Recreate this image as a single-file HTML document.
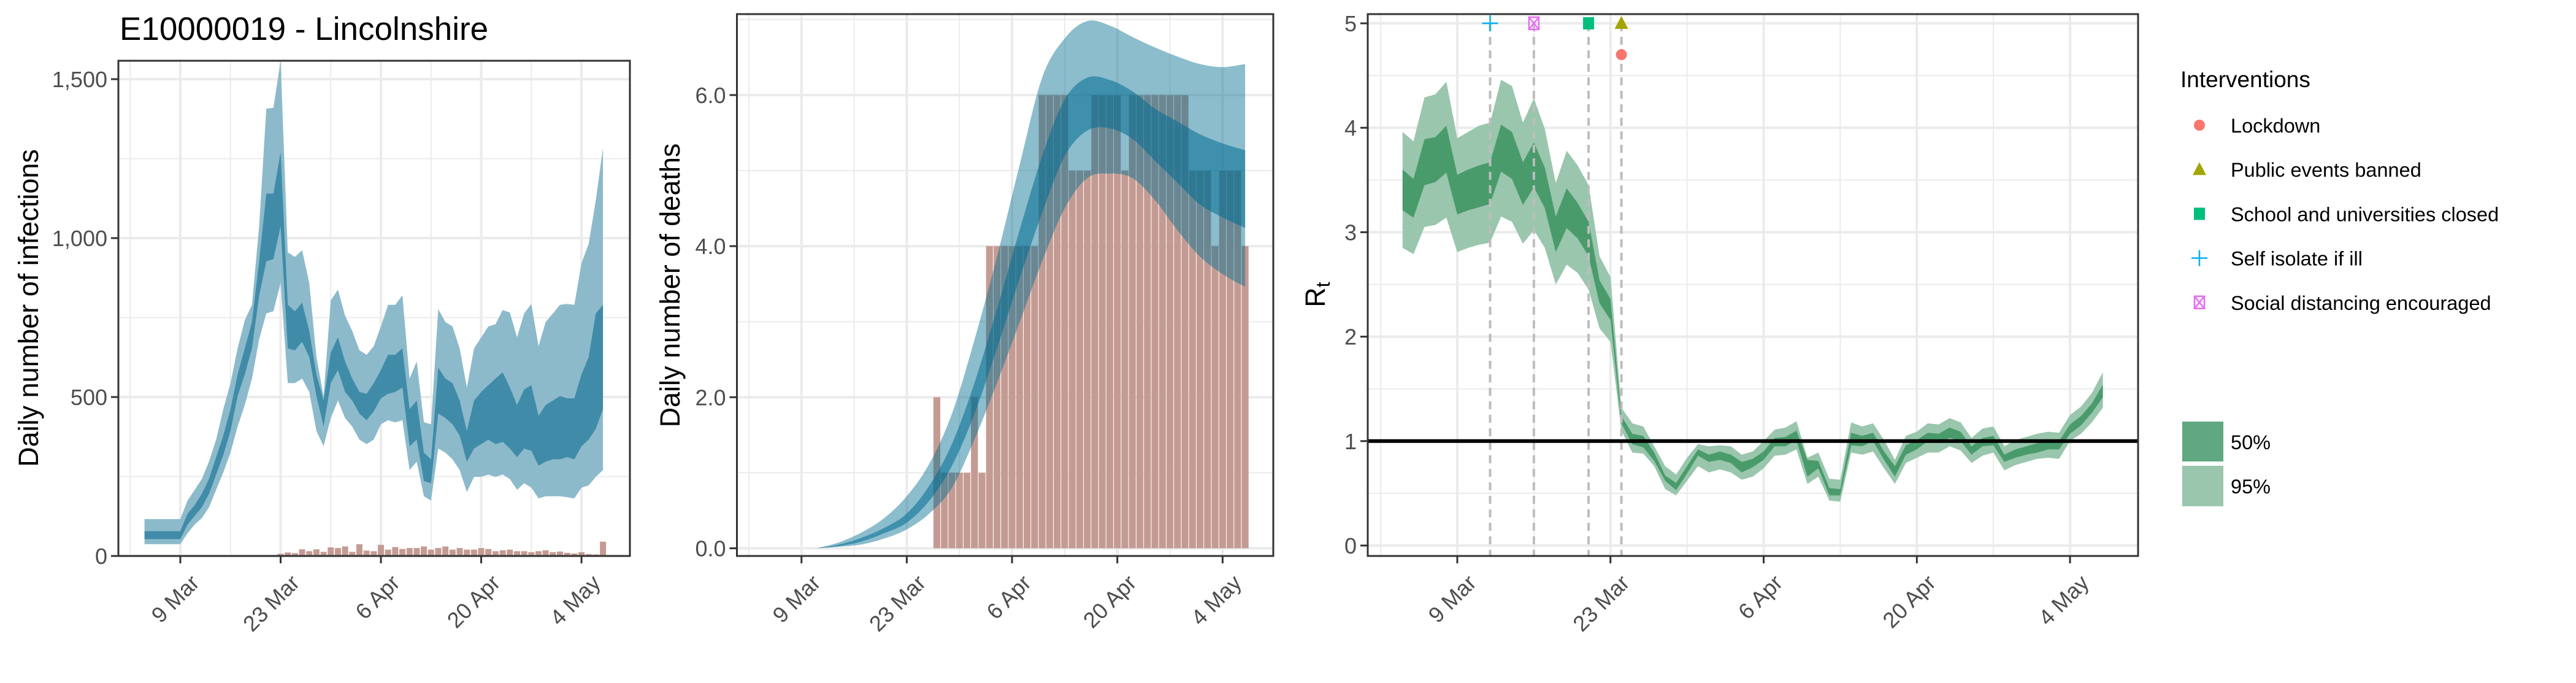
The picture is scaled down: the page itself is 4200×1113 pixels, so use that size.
<!DOCTYPE html>
<html><head><meta charset="utf-8"><style>
html,body{margin:0;padding:0;background:#fff}
svg{display:block;font-family:"Liberation Sans",Arial,sans-serif}
</style></head><body>
<svg id="chart" xmlns="http://www.w3.org/2000/svg" width="4200" height="1113" viewBox="0 0 4200 1113">
<rect width="4200" height="1113" fill="#fff"/>
<text x="195" y="65" font-size="53" fill="#000">E10000019 - Lincolnshire</text>
<g id="p1"></g>
<g id="p2"></g>
<g id="p3"></g>
<g id="legend"></g>
</svg>
<script>
// day 0 = 4 Mar
const tickLabels = ["9 Mar","23 Mar","6 Apr","20 Apr","4 May"];
const tickDays = [5,19,33,47,61];
const minorDays = [-2,12,26,40,54];
// infections
const inf95hi=[116,116,116,116,116,116,174,208,242,297,366,462,544,653,742,790,1037,1407,1410,1558,955,941,962,859,626,503,804,838,756,708,647,633,660,722,790,790,820,558,612,421,414,777,736,722,653,530,653,688,722,729,774,766,688,763,793,660,736,763,790,793,790,921,982,1119,1284];
const inf50hi=[78,78,78,78,78,78,133,160,195,242,311,379,462,571,653,736,927,1140,1140,1270,790,770,797,708,571,489,640,688,612,558,516,510,544,585,633,633,653,462,489,325,304,592,558,544,489,393,489,516,537,558,578,530,475,524,537,441,475,489,503,496,496,571,626,763,790];
const inf50lo=[53,53,53,53,53,53,99,126,153,195,256,318,393,503,571,653,818,927,934,1037,653,647,674,626,503,407,544,585,516,489,448,427,455,496,510,516,530,345,366,236,229,448,434,414,379,297,338,352,366,352,359,338,311,338,331,284,297,304,304,311,304,345,366,400,462];
const inf95lo=[37,37,37,37,37,37,71,99,119,153,208,263,325,407,475,558,681,763,770,859,544,544,558,516,393,345,434,489,434,407,366,352,366,414,427,420,427,270,297,188,174,338,325,304,270,201,249,249,256,249,256,242,208,229,215,181,188,188,188,185,181,215,222,249,270];
const caseDays=[14,16,19,20,21,22,23,24,25,26,27,28,29,30,31,32,33,34,35,36,37,38,39,40,41,42,43,44,45,46,47,48,49,50,51,52,53,54,55,56,57,58,59,60,61,62,63,64];
const caseVals=[3,3,7,11,9,21,15,21,13,27,25,30,13,37,17,15,35,20,28,22,25,25,30,20,25,30,20,25,20,20,25,22,15,18,20,15,15,12,15,18,12,14,10,8,12,6,5,45];
// deaths
const deathDays=[7,10,13,16,19,22,25,28,31,34,37,40,43,46,49,52,55,58,61,64];
const d95hi=[0,0.08,0.21,0.40,0.69,1.12,1.78,2.76,3.86,5.07,6.23,6.75,6.98,6.92,6.77,6.63,6.51,6.41,6.37,6.41];
const d50hi=[0,0.05,0.14,0.27,0.46,0.83,1.38,2.19,3.17,4.21,5.19,5.94,6.23,6.20,6.05,5.82,5.65,5.48,5.36,5.27];
const d50lo=[0,0.03,0.09,0.20,0.34,0.63,1.09,1.78,2.65,3.57,4.44,5.19,5.53,5.56,5.42,5.13,4.84,4.55,4.38,4.24];
const d95lo=[0,0.02,0.05,0.13,0.25,0.46,0.80,1.44,2.19,2.99,3.80,4.50,4.90,4.96,4.90,4.61,4.21,3.86,3.63,3.46];
const deathBarDays=[23,24,25,26,27,28,29,30,31,32,33,34,35,36,37,38,39,40,41,42,43,44,45,46,47,48,49,50,51,52,53,54,55,56,57,58,59,60,61,62,63,64];
const deathBarVals=[2,1,1,1,1,2,1,4,4,4,4,4,4,4,6,6,6,6,5,5,5,6,6,6,6,5,6,6,6,6,6,6,6,6,5,5,5,4,5,5,5,4];
// Rt
const r95hi=[3.96,3.87,4.29,4.32,4.44,3.90,3.96,4.02,4.05,4.46,4.40,4.05,4.28,3.99,3.47,3.78,3.64,3.45,2.77,2.57,1.32,1.17,1.14,0.95,0.76,0.68,0.84,0.97,0.95,0.96,0.95,0.87,0.90,1.00,1.11,1.13,1.19,0.84,0.89,0.64,0.63,1.18,1.14,1.17,1.01,0.82,1.05,1.09,1.17,1.16,1.22,1.18,1.03,1.12,1.14,0.95,1.01,1.04,1.07,1.09,1.08,1.25,1.33,1.46,1.66];
const r50hi=[3.60,3.51,3.89,3.91,4.02,3.55,3.60,3.64,3.67,4.03,3.96,3.67,3.86,3.62,3.15,3.42,3.28,3.10,2.54,2.36,1.24,1.07,1.05,0.89,0.67,0.60,0.76,0.92,0.87,0.90,0.87,0.80,0.83,0.90,1.03,1.04,1.10,0.82,0.81,0.55,0.54,1.08,1.05,1.08,0.90,0.76,0.96,1.01,1.08,1.07,1.13,1.09,0.95,1.03,1.05,0.87,0.92,0.95,0.98,1.00,1.00,1.16,1.24,1.36,1.54];
const r50lo=[3.21,3.14,3.45,3.48,3.57,3.17,3.21,3.24,3.27,3.58,3.51,3.26,3.43,3.23,2.81,3.04,2.94,2.77,2.32,2.16,1.17,0.97,0.94,0.81,0.62,0.53,0.69,0.86,0.80,0.82,0.79,0.70,0.75,0.82,0.95,0.95,1.01,0.66,0.74,0.48,0.48,0.96,0.95,1.00,0.82,0.66,0.87,0.92,1.00,0.98,1.03,1.00,0.87,0.95,0.96,0.80,0.84,0.87,0.89,0.92,0.92,1.07,1.15,1.27,1.42];
const r95lo=[2.85,2.79,3.05,3.07,3.14,2.81,2.85,2.88,2.90,3.15,3.10,2.89,3.02,2.85,2.50,2.69,2.61,2.45,2.08,1.95,1.10,0.89,0.88,0.76,0.54,0.48,0.62,0.76,0.70,0.73,0.70,0.63,0.66,0.74,0.86,0.87,0.92,0.59,0.66,0.43,0.42,0.89,0.87,0.90,0.74,0.59,0.79,0.84,0.89,0.89,0.95,0.91,0.79,0.86,0.89,0.72,0.77,0.80,0.83,0.84,0.83,1.00,1.07,1.18,1.32];
const interventionNames=["Lockdown","Public events banned","School and universities closed","Self isolate if ill","Social distancing encouraged"];
const interventionDays=[20,20,17,8,12];
const interventionY=[4.7,5,5,5,5];

const NS="http://www.w3.org/2000/svg";
function mk(parent,tag,attrs){const e=document.createElementNS(NS,tag);for(const k in attrs)e.setAttribute(k,attrs[k]);parent.appendChild(e);return e;}
const P1={L:193,R:1027,T:99,B:906,x:d=>235.6+d*11.68,y:v=>906-v*0.518};
const P2={L:1201.5,R:2076,T:23,B:906,x:d=>1245.5+d*12.26,y:v=>893.5-v*123.1};
const P3={L:2230,R:3486,T:23,B:906,x:d=>2286.8+d*17.84,y:v=>889-v*170.2};

function grid(g,P,yMaj,yMin){
  minorDays.forEach(d=>{const l=mk(g,'line',{x1:P.x(d),x2:P.x(d),y1:P.T,y2:P.B,stroke:'#ebebeb','stroke-width':2});});
  yMin.forEach(v=>{const l=mk(g,'line',{x1:P.L,x2:P.R,y1:P.y(v),y2:P.y(v),stroke:'#ebebeb','stroke-width':2});});
  tickDays.forEach(d=>{const l=mk(g,'line',{x1:P.x(d),x2:P.x(d),y1:P.T,y2:P.B,stroke:'#ebebeb','stroke-width':4});});
  yMaj.forEach(v=>{const l=mk(g,'line',{x1:P.L,x2:P.R,y1:P.y(v),y2:P.y(v),stroke:'#ebebeb','stroke-width':4});});
}
function axes(g,P,yMaj,fmt){
  const b=mk(g,'rect',{x:P.L,y:P.T,width:P.R-P.L,height:P.B-P.T,fill:'none',stroke:'#333','stroke-width':3});
  
  yMaj.forEach(v=>{
    const t=mk(g,'line',{x1:P.L-12,x2:P.L,y1:P.y(v),y2:P.y(v),stroke:'#333','stroke-width':3});
    
    const tx=mk(g,'text',{x:P.L-18,y:P.y(v)+13,'text-anchor':'end','font-size':36,fill:'#4d4d4d'});tx.textContent=fmt(v);
    
  });
  tickDays.forEach((d,i)=>{
    const t=mk(g,'line',{x1:P.x(d),x2:P.x(d),y1:P.B,y2:P.B+12,stroke:'#333','stroke-width':3});
    
    const X=P.x(d)+33,Y=952;
    const tx=mk(g,'text',{x:X,y:Y,'text-anchor':'end','font-size':36,fill:'#4d4d4d',transform:`rotate(-45 ${X} ${Y})`});tx.textContent=tickLabels[i];
    
  });
}
function band(g,P,days,hi,lo,fill,name){
  let d='M'+days.map((x,i)=>P.x(x).toFixed(1)+','+P.y(hi[i]).toFixed(1)).join('L');
  for(let i=days.length-1;i>=0;i--)d+='L'+P.x(days[i]).toFixed(1)+','+P.y(lo[i]).toFixed(1);
  const p=mk(g,'path',{d:d+'Z',fill:fill});return p;
}
function smooth(P,days,vals){
  const pts=days.map((x,i)=>[P.x(x),P.y(vals[i])]);let s='';
  for(let i=0;i<pts.length-1;i++){
    const p0=pts[Math.max(0,i-1)],p1=pts[i],p2=pts[i+1],p3=pts[Math.min(pts.length-1,i+2)];
    const c1=[p1[0]+(p2[0]-p0[0])/6,p1[1]+(p2[1]-p0[1])/6],c2=[p2[0]-(p3[0]-p1[0])/6,p2[1]-(p3[1]-p1[1])/6];
    s+=` C${c1[0].toFixed(1)},${c1[1].toFixed(1)} ${c2[0].toFixed(1)},${c2[1].toFixed(1)} ${p2[0].toFixed(1)},${p2[1].toFixed(1)}`;
  }return {start:pts[0],seg:s,pts};
}
function smoothBand(g,P,hi,lo,fill,name){
  const a=smooth(P,deathDays,hi);
  const rd=deathDays.slice().reverse(),rl=lo.slice().reverse();
  const b=smooth(P,rd,rl);
  const d=`M${a.start[0]},${a.start[1]}${a.seg} L${b.start[0]},${b.start[1]}${b.seg}Z`;
  const p=mk(g,'path',{d:d,fill:fill});
}
const allDays=inf95hi.map((_,i)=>i);

// Panel 1
const g1=document.getElementById('p1');
grid(g1,P1,[0,500,1000,1500],[250,750,1250]);
caseDays.forEach((d,i)=>{
  const r=mk(g1,'rect',{x:P1.x(d)-5,y:P1.y(caseVals[i]),width:10,height:P1.y(0)-P1.y(caseVals[i]),fill:'#c49b93'});
  
});
band(g1,P1,allDays,inf95hi,inf95lo,'#8cbacb','infections-95-band');
band(g1,P1,allDays,inf50hi,inf50lo,'#408ba8','infections-50-band');
axes(g1,P1,[0,500,1000,1500],v=>v.toLocaleString('en-US'));
const yt1=mk(g1,'text',{x:62,y:502,'text-anchor':'middle','font-size':45,fill:'#000',transform:'rotate(-90 62 502)'});yt1.textContent='Daily number of infections';


// Panel 2
const g2=document.getElementById('p2');
grid(g2,P2,[0,2,4,6],[1,3,5,7]);
deathBarDays.forEach((d,i)=>{
  const r=mk(g2,'rect',{x:P2.x(d)-5.6,y:P2.y(deathBarVals[i]),width:11.2,height:P2.y(0)-P2.y(deathBarVals[i]),fill:'#c49b93'});
  
});
smoothBand(g2,P2,d95hi,d95lo,'rgba(0,108,145,0.45)','deaths-95-band');
smoothBand(g2,P2,d50hi,d50lo,'rgba(0,108,145,0.55)','deaths-50-band');
axes(g2,P2,[0,2,4,6],v=>v.toFixed(1));
const yt2=mk(g2,'text',{x:1108,y:465,'text-anchor':'middle','font-size':45,fill:'#000',transform:'rotate(-90 1108 465)'});yt2.textContent='Daily number of deaths';


// Panel 3
const g3=document.getElementById('p3');
grid(g3,P3,[0,1,2,3,4,5],[0.5,1.5,2.5,3.5,4.5]);
band(g3,P3,allDays,r95hi,r95lo,'#99c6ad','rt-95-band');
band(g3,P3,allDays,r50hi,r50lo,'#4a9b6b','rt-50-band');
[...new Set(interventionDays)].forEach(d=>{
  const l=mk(g3,'line',{x1:P3.x(d),x2:P3.x(d),y1:P3.y(5),y2:P3.B,stroke:'#bdbdbd','stroke-width':4,'stroke-dasharray':'13 9'});
  
});
const hl=mk(g3,'line',{x1:P3.L,x2:P3.R,y1:P3.y(1),y2:P3.y(1),stroke:'#000','stroke-width':6});

function marker(g,k,cx,cy){
  let e;
  if(k===0)e=mk(g,'circle',{cx:cx,cy:cy,r:9,fill:'#f8766d'});
  else if(k===1)e=mk(g,'path',{d:`M${cx},${cy-12}L${cx+11},${cy+9}L${cx-11},${cy+9}Z`,fill:'#a3a500'});
  else if(k===2)e=mk(g,'rect',{x:cx-9,y:cy-10,width:18,height:20,fill:'#00bf7d'});
  else if(k===3)e=mk(g,'path',{d:`M${cx-13},${cy}H${cx+13}M${cx},${cy-13}V${cy+13}`,stroke:'#00b0f6','stroke-width':2.5,fill:'none'});
  else e=mk(g,'path',{d:`M${cx-8},${cy-10}h16v20h-16zM${cx-8},${cy-10}L${cx+8},${cy+10}M${cx+8},${cy-10}L${cx-8},${cy+10}`,stroke:'#e76bf3','stroke-width':2.5,fill:'none'});
  return e;
}
interventionDays.forEach((d,k)=>{
  const e=marker(g3,k,P3.x(d),P3.y(interventionY[k]));
  
});
axes(g3,P3,[0,1,2,3,4,5],v=>String(v));
const yt3=mk(g3,'text',{x:2160,y:480,'text-anchor':'middle','font-size':45,fill:'#000',transform:'rotate(-90 2160 480)'});
yt3.innerHTML='R<tspan font-size="32" dy="8">t</tspan>';


// Legend
const lg=document.getElementById('legend');
const lt=mk(lg,'text',{x:3555,y:142,'font-size':37,fill:'#000'});lt.textContent='Interventions';

interventionNames.forEach((n,k)=>{
  const cy=204+k*72.2;
  const m=marker(lg,k,3586,cy);
  
  const t=mk(lg,'text',{x:3637,y:cy+12,'font-size':32.5,fill:'#000'});t.textContent=n;
  
});
const k1=mk(lg,'rect',{x:3558,y:687,width:67,height:65,fill:'#5fa880'});
const k2=mk(lg,'rect',{x:3558,y:759,width:67,height:66,fill:'#99c6ad'});
const l1=mk(lg,'text',{x:3637,y:732,'font-size':32.5,fill:'#000'});l1.textContent='50%';
const l2=mk(lg,'text',{x:3637,y:804,'font-size':32.5,fill:'#000'});l2.textContent='95%';
</script>
</body></html>
